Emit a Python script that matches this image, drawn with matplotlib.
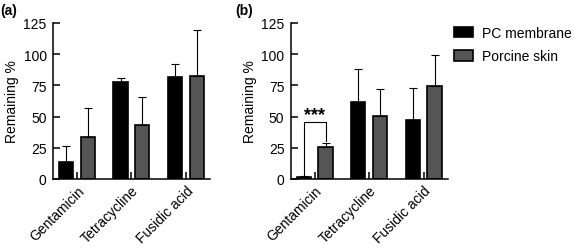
import numpy as np
import matplotlib
matplotlib.use('Agg')
from matplotlib import pyplot as plt

plt.rcParams['font.family'] = ['Liberation Sans', 'DejaVu Sans']

drugs = ['Gentamicin', 'Tetracycline', 'Fusidic acid']
series = ['PC membrane', 'Porcine skin']

# panel (a)
a_pc = [14, 77.5, 81.5]
a_pc_err = [12.5, 3.5, 10.5]
a_skin = [33.5, 43, 82.5]
a_skin_err = [23.5, 23, 36.5]

# panel (b)
b_pc = [1.8, 61.5, 47]
b_pc_err = [0.7, 27, 26]
b_skin = [26, 50.5, 74.5]
b_skin_err = [3.2, 22, 25]

colors = ['black', '#555555']
width = 0.26
off = 0.2
fs = 10


def draw_panel(ax, pc, pc_err, skin, skin_err):
	x = np.arange(len(drugs))
	ekw = dict(elinewidth=0.8, capsize=2.6, capthick=0.8)
	ax.bar(x - off, pc, width, color=colors[0], edgecolor='black', linewidth=1.2,
		   yerr=[np.zeros(3), pc_err], error_kw=ekw, label=series[0])
	ax.bar(x + off, skin, width, color=colors[1], edgecolor='black', linewidth=1.2,
		   yerr=[np.zeros(3), skin_err], error_kw=ekw, label=series[1])
	ax.set_xlim(-0.44, 2.44)
	ax.set_ylim(0, 125)
	ax.set_yticks([0, 25, 50, 75, 100, 125])
	ax.set_xticks(x)
	ax.set_xticklabels(drugs, rotation=45, ha='right', rotation_mode='anchor', fontsize=fs)
	ax.tick_params(axis='both', direction='in', length=5, width=1.1, labelsize=fs, pad=4.5)
	ax.tick_params(axis='x', pad=3)
	ax.spines['top'].set_visible(False)
	ax.spines['right'].set_visible(False)
	ax.spines['left'].set_linewidth(1.1)
	ax.spines['bottom'].set_linewidth(1.1)
	ax.set_ylabel('Remaining %', fontsize=fs, labelpad=3)


fig = plt.figure(figsize=(5.74, 2.51), dpi=100)
ax_a = fig.add_axes([0.0923, 0.2829, 0.2735, 0.6215])
ax_b = fig.add_axes([0.5064, 0.2829, 0.2735, 0.6215])

draw_panel(ax_a, a_pc, a_pc_err, a_skin, a_skin_err)
draw_panel(ax_b, b_pc, b_pc_err, b_skin, b_skin_err)

# significance bracket on gentamicin in (b)
top = 45.5
ax_b.plot([-off, -off, off, off], [b_pc[0] + b_pc_err[0] + 1, top, top, b_skin[0] + b_skin_err[0] + 1],
		  color='black', linewidth=0.8)
ax_b.text(0, top - 1, '***', ha='center', va='bottom', fontsize=13, fontweight='bold')

fig.text(0.0, 0.985, '(a)', fontsize=10, fontweight='bold', va='top', ha='left')
fig.text(0.409, 0.985, '(b)', fontsize=10, fontweight='bold', va='top', ha='left')

h, l = ax_b.get_legend_handles_labels()
fig.legend(h, l, loc='upper left', bbox_to_anchor=(454 / 574, 1 - 27 / 251), frameon=False,
		   fontsize=fs, handlelength=1.37, handleheight=0.8, labelspacing=0.65,
		   handletextpad=0.65, borderpad=0, borderaxespad=0)

fig.savefig('out.png', dpi=100)
